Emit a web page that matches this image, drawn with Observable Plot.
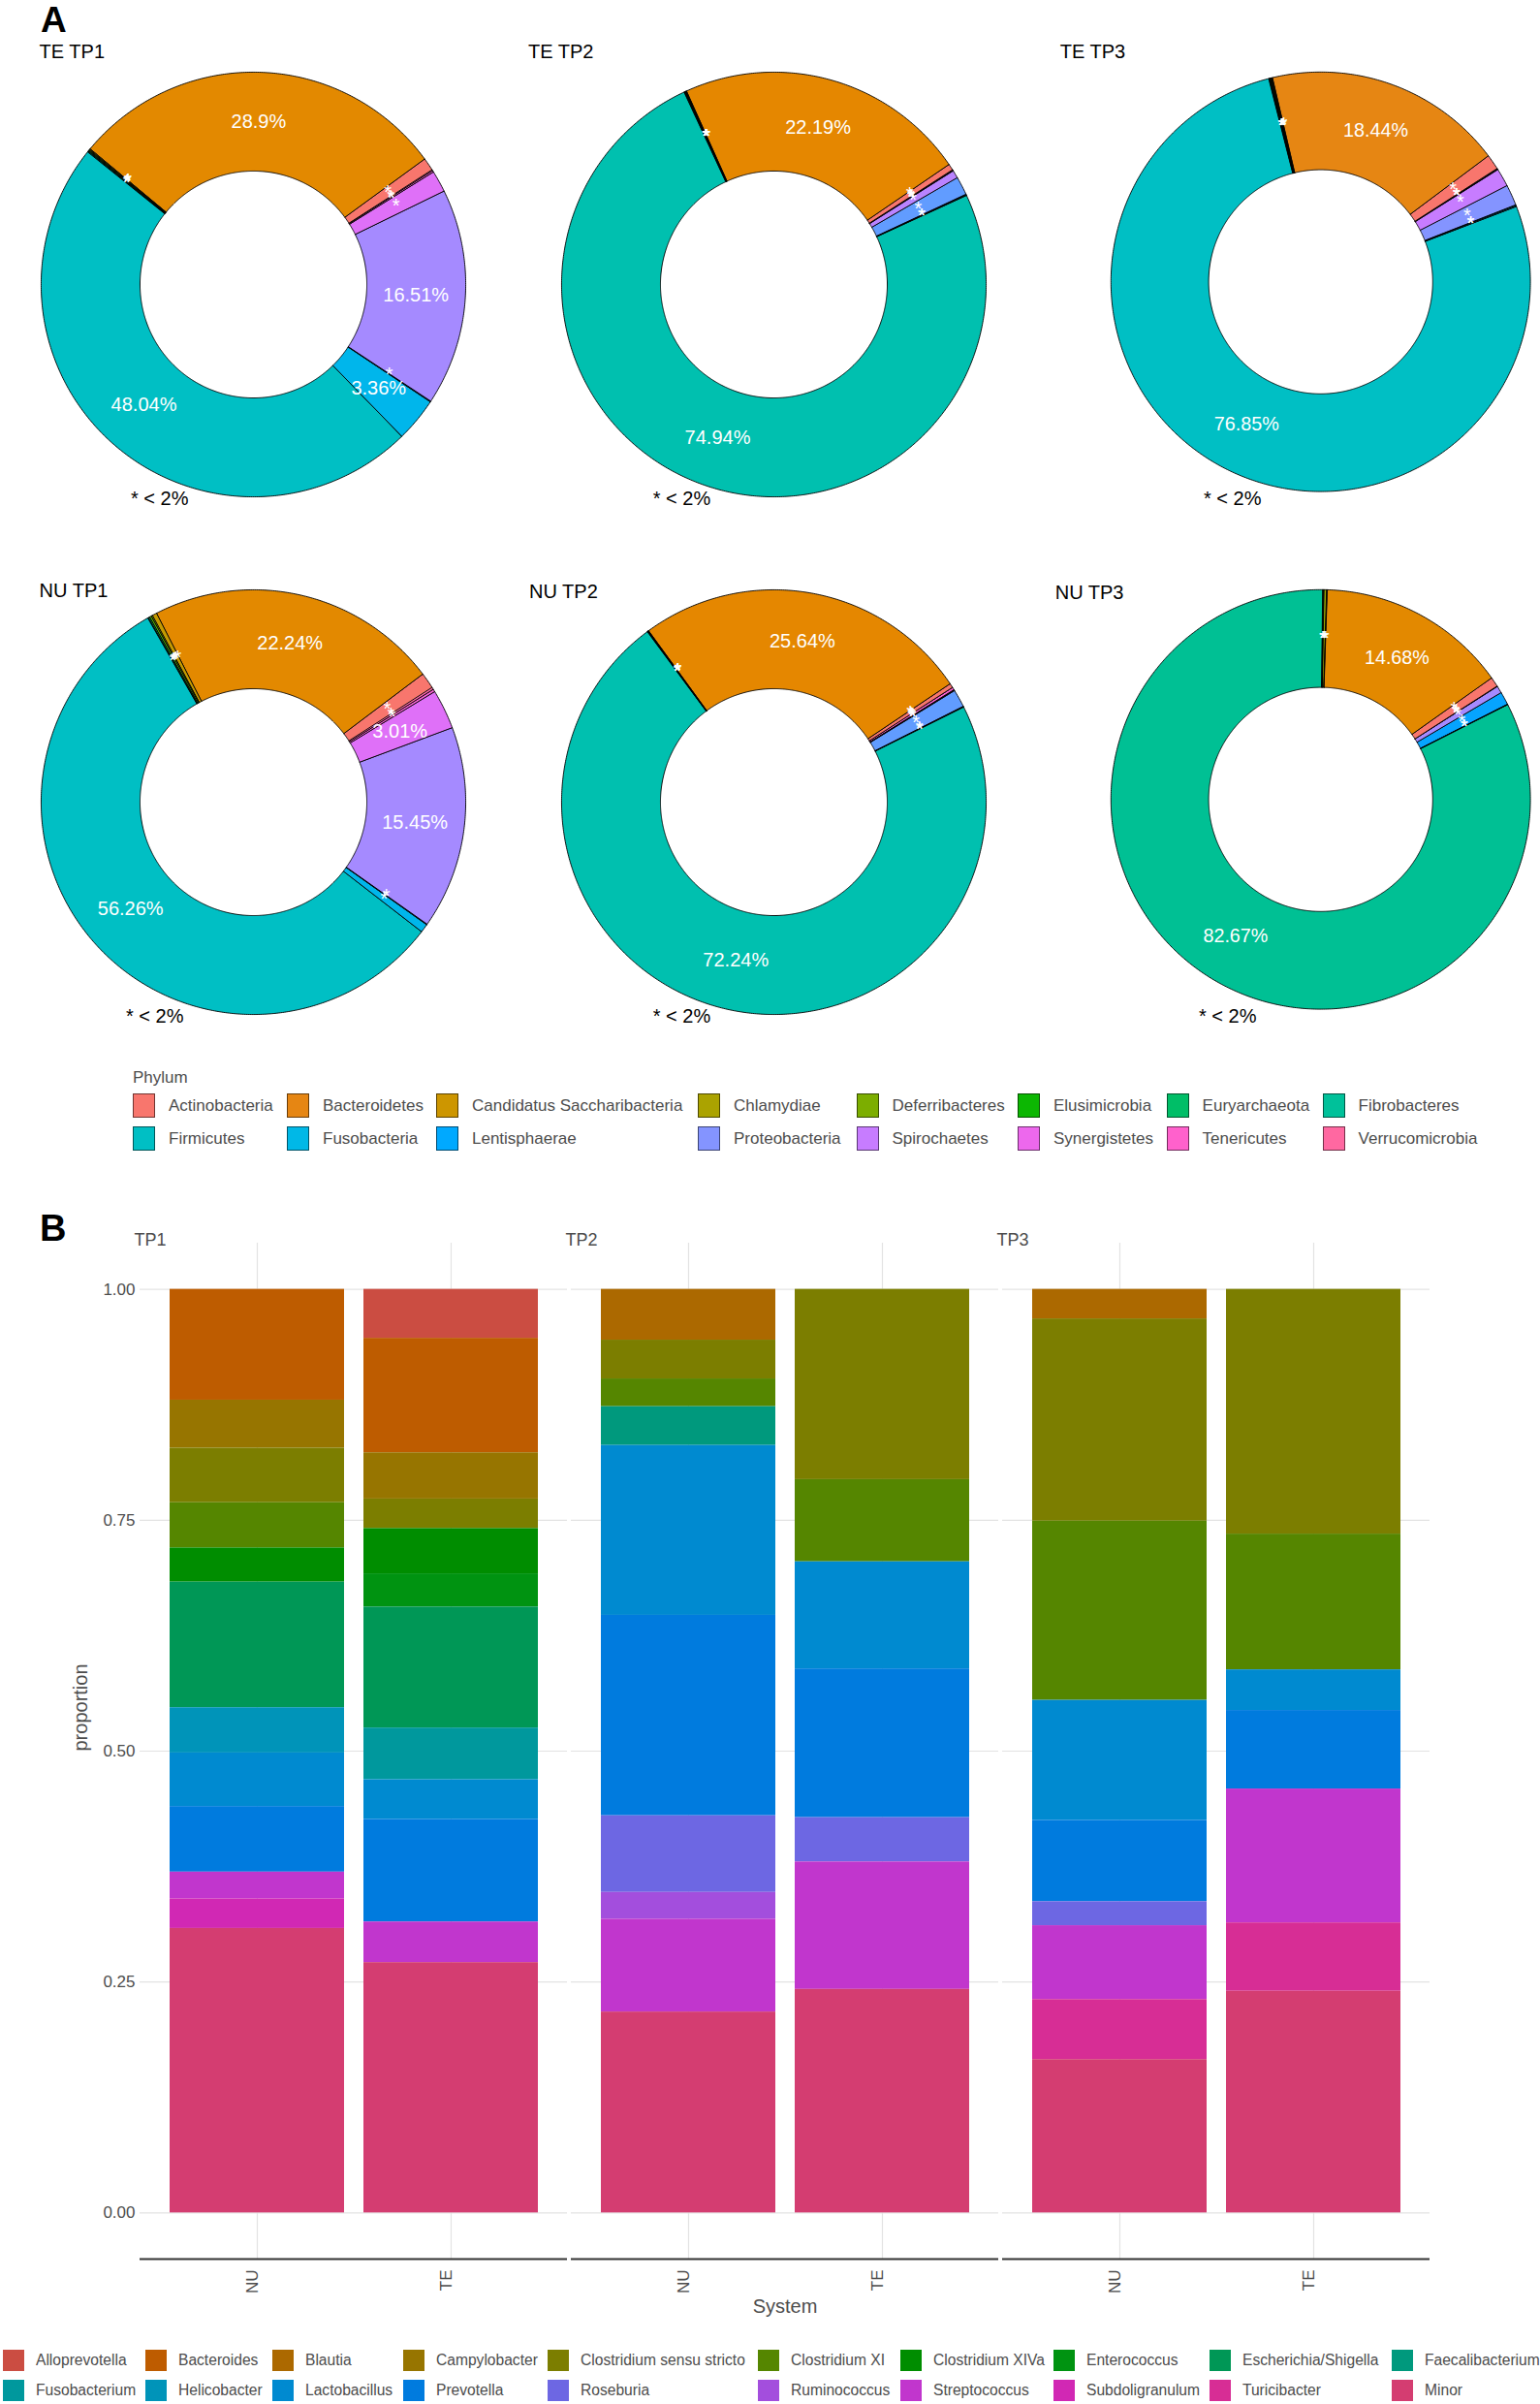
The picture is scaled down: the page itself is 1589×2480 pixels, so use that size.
<!DOCTYPE html>
<html><head><meta charset="utf-8">
<script src="https://cdn.jsdelivr.net/npm/d3@7"></script>
<script src="https://cdn.jsdelivr.net/npm/@observablehq/plot@0.6"></script>
<style>
body{margin:0;background:#fff;}
#page{position:relative;width:1589px;height:2480px;overflow:hidden;font-family:"Liberation Sans",Arial,Helvetica,sans-serif;background:#fff;}
.t{position:absolute;white-space:nowrap;line-height:1;}
.key{position:absolute;box-sizing:border-box;}
</style></head><body><div id="page"></div>
<script>
// ---------------- DATA ----------------
const phyla = ["Actinobacteria","Bacteroidetes","Candidatus Saccharibacteria","Chlamydiae","Deferribacteres","Elusimicrobia","Euryarchaeota","Fibrobacteres","Firmicutes","Fusobacteria","Lentisphaerae","Proteobacteria","Spirochaetes","Synergistetes","Tenericutes","Verrucomicrobia"];
// percent per phylum (aligned with phyla), 0 = absent from that sample
const teTP1 = [0.95, 28.9, 0.06, 0, 0.06, 0.06, 0.06, 0.06, 48.04, 3.36, 0.06, 16.51, 0, 1.64, 0.12, 0.1];
const teTP2 = [0.45, 22.19, 0.04, 0.03, 0.04, 0.05, 0.04, 0, 74.94, 0.05, 0.05, 1.4, 0.6, 0.04, 0.04, 0.04];
const teTP3 = [1.14, 18.44, 0.05, 0.05, 0.05, 0.05, 0.05, 0.05, 76.85, 0.08, 0.06, 1.6, 1.4, 0.04, 0.04, 0.05];
const nuTP1 = [1.19, 22.24, 0.35, 0, 0.1, 0.15, 0.1, 0.05, 56.26, 0.65, 0.05, 15.45, 0, 3.01, 0.2, 0.2];
const nuTP2 = [0.3, 25.64, 0.02, 0, 0.02, 0.03, 0.02, 0.03, 72.24, 0.03, 0.03, 1.35, 0.04, 0.04, 0.2, 0.03];
const nuTP3 = [0.72, 14.68, 0.05, 0, 0.2, 0.05, 0.05, 0, 82.67, 0.02, 0.02, 1.0, 0.55, 0.02, 0.02, 0.02];
const donutTitles = ["TE TP1","TE TP2","TE TP3","NU TP1","NU TP2","NU TP3"];

const genera = ["Alloprevotella","Bacteroides","Blautia","Campylobacter","Clostridium sensu stricto","Clostridium XI","Clostridium XIVa","Enterococcus","Escherichia/Shigella","Faecalibacterium","Fusobacterium","Helicobacter","Lactobacillus","Prevotella","Roseburia","Ruminococcus","Streptococcus","Subdoligranulum","Turicibacter","Minor"];
const timepoints = ["TP1","TP2","TP3"];
const systems = ["NU","TE"];
const tp1NU = [0, .120, 0, .052, .059, .049, .037, 0, .136, 0, 0, .049, .058, .071, 0, 0, .029, .032, 0, .308];
const tp1TE = [.053, .124, 0, .050, .032, 0, .049, .036, .131, 0, .056, 0, .043, .111, 0, 0, .044, 0, 0, .271];
const tp2NU = [0, 0, .055, 0, .042, .030, 0, 0, 0, .042, 0, 0, .184, .217, .083, .029, .1005, 0, 0, .2175];
const tp2TE = [0, 0, 0, 0, .206, .089, 0, 0, 0, 0, 0, 0, .116, .161, .048, 0, .138, 0, 0, .242];
const tp3NU = [0, 0, .032, 0, .219, .194, 0, 0, 0, 0, 0, 0, .130, .088, .026, 0, .080, 0, .065, .166];
const tp3TE = [0, 0, 0, 0, .265, .147, 0, 0, 0, 0, 0, 0, .044, .085, 0, 0, .145, 0, .074, .240];
const yTicks = [0, 0.25, 0.5, 0.75, 1];

// ---------------- COLOURS (ggplot2 hue palette, R hcl) ----------------
function hcl(h, c, l) {
  const WY = 100, Wu = 0.1978398, Wv = 0.4683363;
  const hr = h * Math.PI / 180, U = c * Math.cos(hr), V = c * Math.sin(hr);
  const Y = WY * (l > 7.999592 ? Math.pow((l + 16) / 116, 3) : l / 903.3);
  const u = U / (13 * l) + Wu, v = V / (13 * l) + Wv;
  const X = 9 * Y * u / (4 * v), Z = -X / 3 - 5 * Y + 3 * Y / v;
  const g = t => t > 0.00304 ? 1.055 * Math.pow(t, 1 / 2.4) - 0.055 : 12.92 * t;
  const cl = t => Math.round(255 * Math.max(0, Math.min(1, t)));
  return d3.rgb(cl(g((3.240479 * X - 1.537150 * Y - 0.498535 * Z) / WY)),
                cl(g((-0.969256 * X + 1.875992 * Y + 0.041556 * Z) / WY)),
                cl(g((0.055648 * X - 0.204043 * Y + 1.057311 * Z) / WY))).formatHex();
}
const huePal = (n, l) => d3.range(n).map(k => hcl(15 + 360 * k / n, 100, l));
const phylumColors = huePal(phyla.length, 65);
const genusColors = huePal(genera.length, 50);

// ---------------- PAGE HELPERS ----------------
const FONT = '"Liberation Sans", Arial, Helvetica, sans-serif';
const page = document.getElementById("page");
function put(el, left, top) { el.style.position = "absolute"; el.style.left = left + "px"; el.style.top = top + "px"; page.appendChild(el); return el; }
function label(str, x, y, o = {}) {
  const d = document.createElement("div"); d.className = "t"; d.textContent = str;
  d.style.fontSize = (o.size || 20) + "px"; d.style.fontWeight = o.weight || "normal"; d.style.color = o.color || "#000";
  d.style.transform = o.anchor === "middle" ? "translate(-50%,-50%)" : "translateY(-50%)";
  return put(d, x, y);
}

// ---------------- PANEL A : DONUTS ----------------
const START = 1;            // coord_polar start (radians)
const R_IN = 117 / 219;     // hole size relative to outer radius
function donut(values) {
  const present = phyla.filter((p, i) => values[i] > 0);
  const vals = present.map(p => values[phyla.indexOf(p)]);
  const total = d3.sum(vals);
  let cum = 0; const slices = [];
  for (let i = present.length - 1; i >= 0; i--) {
    const a0 = START + cum / total * 2 * Math.PI; cum += vals[i];
    const a1 = START + cum / total * 2 * Math.PI;
    slices.push({phylum: present[i], value: vals[i], a0, a1});
  }
  const pts = [];
  for (const s of slices) {
    const n = Math.max(2, Math.ceil((s.a1 - s.a0) / (Math.PI / 360)) + 1);
    for (let j = 0; j < n; j++) { const a = s.a0 + (s.a1 - s.a0) * j / (n - 1); pts.push({phylum: s.phylum, x: Math.sin(a), y: Math.cos(a)}); }
    for (let j = n - 1; j >= 0; j--) { const a = s.a0 + (s.a1 - s.a0) * j / (n - 1); pts.push({phylum: s.phylum, x: R_IN * Math.sin(a), y: R_IN * Math.cos(a)}); }
  }
  const rm = (1 + R_IN) / 2;
  const labels = slices.map(s => ({x: rm * Math.sin((s.a0 + s.a1) / 2), y: rm * Math.cos((s.a0 + s.a1) / 2),
    text: s.value < 2 ? "*" : (+s.value.toFixed(2)) + "%"}));
  return Plot.plot({
    width: 460, height: 460, margin: 0,
    x: {domain: [-1.05, 1.05], axis: null}, y: {domain: [-1.05, 1.05], axis: null},
    // each pie used its own default hue palette over the phyla it contains
    color: {domain: present, range: huePal(present.length, 65)},
    style: {fontFamily: FONT, background: "transparent", overflow: "visible"},
    marks: [
      Plot.line(pts, {x: "x", y: "y", z: "phylum", fill: "phylum", stroke: "black", strokeWidth: 0.9, curve: "linear-closed"}),
      Plot.text(labels, {x: "x", y: "y", text: "text", fill: "white", fontSize: 20})
    ]
  });
}
const donutSets = [teTP1, teTP2, teTP3, nuTP1, nuTP2, nuTP3];
const centers = [[261, 293], [798, 293], [1364.6, 293], [261, 827.4], [798, 827.4], [1364.6, 827.4]];
const titlePos = [[40.6, 53.4], [545, 53.4], [1093.7, 53], [40.6, 609], [546, 610], [1088.7, 611]];
const notePos = [[135, 514], [673.7, 514], [1242, 514], [130, 1047.6], [673.7, 1047.6], [1237, 1047.6]];
donutSets.forEach((vals, i) => {
  const wrap = document.createElement("div");
  wrap.appendChild(donut(vals));
  put(wrap, centers[i][0] - 230, centers[i][1] - 230);
  label(donutTitles[i], titlePos[i][0], titlePos[i][1], {size: 20});
  label("* < 2%", notePos[i][0], notePos[i][1], {size: 20});
});
label("A", 42, 19.5, {size: 37, weight: "bold"});

// legend A
label("Phylum", 137, 1111, {size: 17, color: "#4d4d4d"});
const legAx = [137, 296, 450, 720, 883.5, 1050, 1203.6, 1364.6], legAy = [1140, 1174];
phyla.forEach((p, i) => {
  const col = i % 8, row = Math.floor(i / 8);
  const k = document.createElement("div"); k.className = "key";
  k.style.width = "23px"; k.style.height = "25px"; k.style.background = phylumColors[i]; k.style.border = "1px solid rgba(0,0,0,0.55)";
  put(k, legAx[col], legAy[row] - 12.5);
  label(p, legAx[col] + 37, legAy[row], {size: 17, color: "#4d4d4d"});
});

// ---------------- PANEL B : STACKED BARS ----------------
const sampleRows = [
  {tp: "TP1", system: "NU", values: tp1NU}, {tp: "TP1", system: "TE", values: tp1TE},
  {tp: "TP2", system: "NU", values: tp2NU}, {tp: "TP2", system: "TE", values: tp2TE},
  {tp: "TP3", system: "NU", values: tp3NU}, {tp: "TP3", system: "TE", values: tp3TE}
];
const barData = [];
sampleRows.forEach(s => s.values.forEach((v, i) => { if (v > 0) barData.push({tp: s.tp, system: s.system, genus: genera[i], value: v}); }));
const yDomain = [-0.05, 1.05];
const barPlot = Plot.plot({
  width: 1589, height: 1160, marginTop: 42, marginBottom: 70, marginLeft: 143, marginRight: 113,
  style: {fontFamily: FONT, fontSize: "17px", color: "#4d4d4d", background: "transparent", overflow: "visible"},
  fx: {domain: timepoints, paddingInner: 0.0101, paddingOuter: 0, axis: null, label: null},
  x: {domain: systems, paddingInner: 0.1, paddingOuter: 0.15, axis: null, label: null},
  y: {domain: yDomain, ticks: yTicks, tickFormat: d3.format(".2f"), tickSize: 0, tickPadding: 5, label: null},
  color: {domain: genera, range: genusColors},
  marks: [
    Plot.ruleY(yTicks, {stroke: "#e3e3e3", strokeWidth: 1.2}),
    Plot.ruleX(systems, {x: d => d, stroke: "#e3e3e3", strokeWidth: 1.2}),
    Plot.barY(barData, {fx: "tp", x: "system", y: "value", fill: "genus", order: genera.slice().reverse()}),
    Plot.ruleY([yDomain[0]], {stroke: "#333", strokeWidth: 1.8}),
    Plot.text(timepoints, {fx: d => d, text: d => d, frameAnchor: "top-left", dx: -6, dy: -3, textAnchor: "start", lineAnchor: "middle", fontSize: 18, fill: "#4d4d4d"}),
    Plot.text(sampleRows, {fx: "tp", x: "system", text: "system", frameAnchor: "bottom", rotate: -90, textAnchor: "end", dy: 11, fontSize: 17, fill: "#4d4d4d"}),
    Plot.text(["proportion"], {fx: ["TP1"], text: d => d, frameAnchor: "left", dx: -61, rotate: -90, fontSize: 20, fill: "#4d4d4d"}),
    Plot.text(["System"], {fx: ["TP2"], text: d => d, frameAnchor: "bottom", dy: 55, fontSize: 20, fill: "#4d4d4d"})
  ]
});
const bw = document.createElement("div"); bw.appendChild(barPlot); put(bw, 0, 1240);
label("B", 41, 1267, {size: 38, weight: "bold"});

// legend B
const legBx = [3, 150, 281, 416, 565, 782, 929, 1087, 1248, 1436], legBy = [2435, 2466];
genera.forEach((g, i) => {
  const col = i % 10, row = Math.floor(i / 10);
  const k = document.createElement("div"); k.className = "key";
  k.style.width = "22px"; k.style.height = "22px"; k.style.background = genusColors[i];
  put(k, legBx[col], legBy[row] - 11);
  label(g, legBx[col] + 34, legBy[row], {size: 15.6, color: "#4d4d4d"});
});
</script></body></html>
